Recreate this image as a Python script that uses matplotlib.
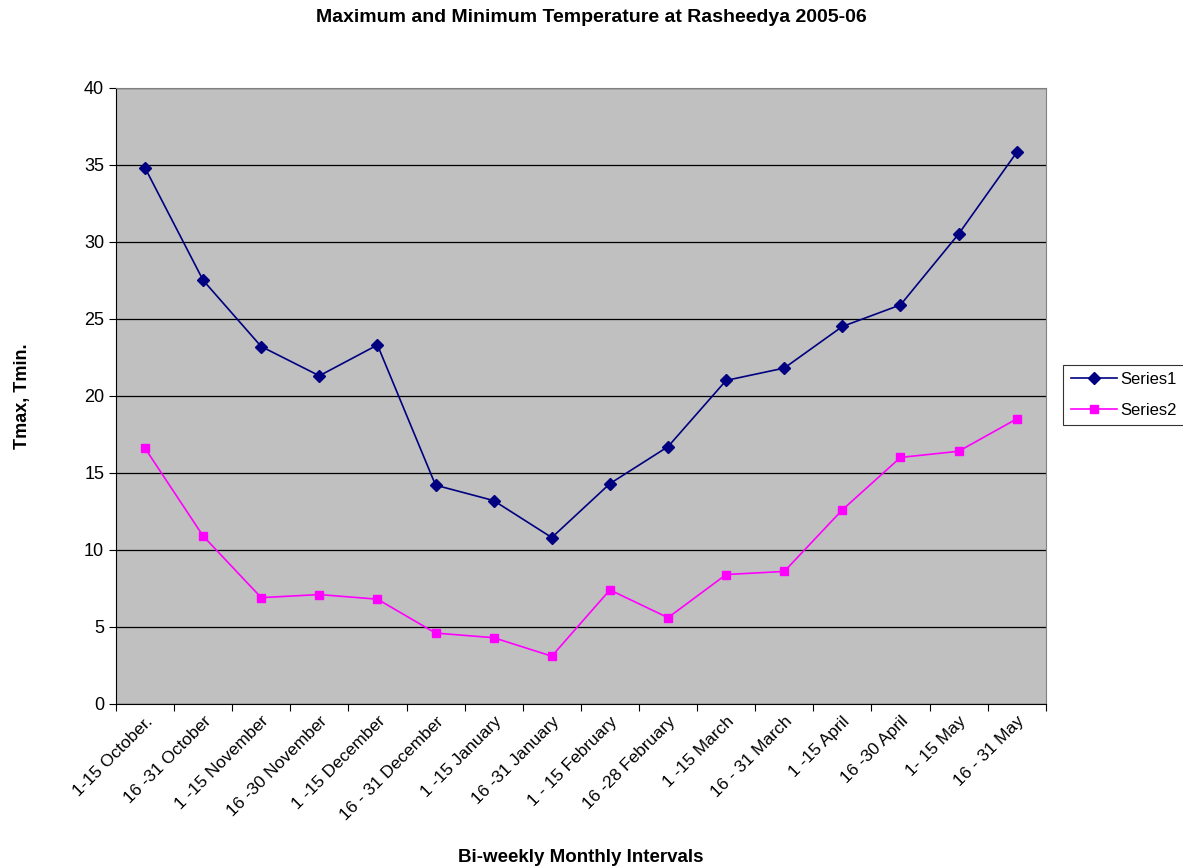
import matplotlib.pyplot as plt
import numpy as np

plt.rcParams['font.family'] = ['Liberation Sans', 'DejaVu Sans']

intervals = ['1-15 October.', '16 -31 October', '1 -15 November', '16 -30 November',
             '1 -15 December', '16 - 31 December', '1 -15 January', '16 -31 January',
             '1 - 15 February', '16 -28 February', '1 -15 March', '16 - 31 March',
             '1 -15 April', '16 -30 April', '1- 15 May', '16 - 31 May']
series1 = [34.8, 27.5, 23.2, 21.3, 23.3, 14.2, 13.2, 10.8,
           14.3, 16.7, 21.0, 21.8, 24.5, 25.9, 30.5, 35.8]
series2 = [16.6, 10.9, 6.9, 7.1, 6.8, 4.6, 4.3, 3.1,
           7.4, 5.6, 8.4, 8.6, 12.6, 16.0, 16.4, 18.5]

fig = plt.figure(figsize=(11.83, 8.68), dpi=100)
ax = fig.add_axes([0.098, 0.189, 0.786, 0.710])
ax.set_facecolor('#C0C0C0')

x = np.arange(len(intervals))
ax.plot(x, series1, '-D', color='#000080', markersize=6, linewidth=1.2, label='Series1')
ax.plot(x, series2, '-s', color='#FF00FF', markersize=6, linewidth=1.2, label='Series2')

ax.set_xlim(-0.5, len(intervals) - 0.5)
ax.set_ylim(0, 40)
ax.set_yticks(range(0, 41, 5))
ax.yaxis.grid(True, color='black', linewidth=0.9)
ax.set_axisbelow(True)

# ticks between categories, labels at category centres
ax.set_xticks(np.arange(-0.5, len(intervals)), minor=False)
ax.set_xticklabels([])
ax.set_xticks(x, minor=True)
ax.set_xticklabels(intervals, minor=True, rotation=45, ha='right',
                   rotation_mode='anchor', fontsize=12.5)
ax.tick_params(axis='x', which='minor', length=0, pad=7)
ax.tick_params(axis='x', which='major', length=5, color='black')
ax.tick_params(axis='y', length=5, labelsize=13)

for side in ['top', 'right']:
    ax.spines[side].set_color('#808080')
for side in ['left', 'bottom']:
    ax.spines[side].set_color('black')

ax.set_ylabel('Tmax, Tmin.', fontsize=13, fontweight='bold')
ax.yaxis.set_label_coords(-0.0914, 0.5)
ax.set_xlabel('Bi-weekly Monthly Intervals', fontsize=13.5, fontweight='bold')
ax.xaxis.set_label_coords(0.5, -0.2354)
fig.suptitle('Maximum and Minimum Temperature at Rasheedya 2005-06',
             fontsize=14, fontweight='bold', x=0.5, y=0.99)

leg = fig.legend(loc='center left', bbox_to_anchor=(0.8986, 0.545), fontsize=12,
                 frameon=True, fancybox=False, edgecolor='black', handlelength=2.76,
                 borderpad=0.45, labelspacing=0.95, handletextpad=0.24,
                 borderaxespad=0)
leg.get_frame().set_linewidth(0.8)

fig.savefig('out.png', dpi=100)
